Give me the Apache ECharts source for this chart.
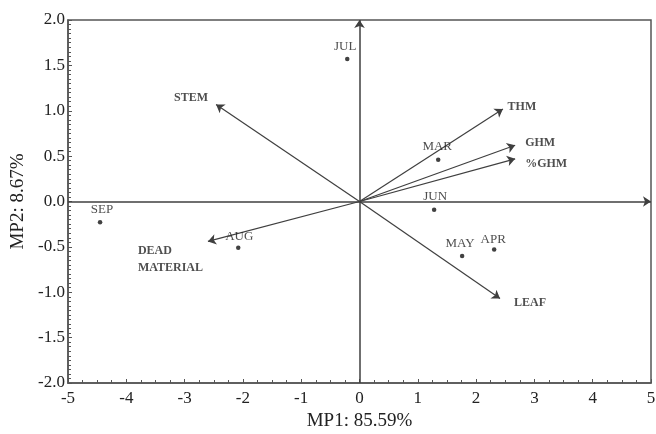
<!DOCTYPE html>
<html lang="en">
<head>
    <meta charset="UTF-8">
    <title>MP biplot</title>
    <script src="https://cdn.jsdelivr.net/npm/echarts@6/dist/echarts.min.js"></script>
    <style>
        html, body { margin: 0; padding: 0; background: #fff; }
        #chart { width: 656px; height: 434px; }
    </style>
</head>
<body>
    <div id="chart"></div>
    <script>
        // month scores
        const monthNames = ['JUL', 'MAR', 'JUN', 'MAY', 'APR', 'SEP', 'AUG'];
        const monthX = [-0.21, 1.35, 1.28, 1.76, 2.31, -4.45, -2.08];
        const monthY = [1.57, 0.46, -0.09, -0.60, -0.53, -0.23, -0.51];

        // variable vectors (arrow tips from the origin)
        const varNames = ['STEM', 'THM', 'GHM', '%GHM', 'LEAF', 'DEAD\nMATERIAL'];
        const varX = [-2.46, 2.46, 2.67, 2.67, 2.41, -2.60];
        const varY = [1.07, 1.02, 0.62, 0.47, -1.07, -0.44];

        const xTicks = [-5, -4, -3, -2, -1, 0, 1, 2, 3, 4, 5];
        const yTicks = [-2.0, -1.5, -1.0, -0.5, 0.0, 0.5, 1.0, 1.5, 2.0];

        // label offsets in px (layout only)
        const monthOffsets = {
            JUL: [-2, -12], MAR: [-1, -13], JUN: [1, -13], MAY: [-2, -12],
            APR: [-1, -10], SEP: [2, -13], AUG: [1, -11]
        };
        const varOffsets = {
            'STEM': [-25, -6], 'THM': [19, -2], 'GHM': [25, -2],
            '%GHM': [31, 5], 'LEAF': [30, 4], 'DEAD\nMATERIAL': [-70, 18]
        };

        const serif = '"Liberation Serif", "DejaVu Serif", serif';
        const lineColor = '#3f3f3f';

        const chart = echarts.init(document.getElementById('chart'));

        const monthData = monthNames.map((n, i) => ({
            name: n,
            value: [monthX[i], monthY[i]],
            label: { offset: monthOffsets[n] }
        }));

        const varLines = varNames.map((n, i) => ({ coords: [[0, 0], [varX[i], varY[i]]] }));
        const varLabels = varNames.map((n, i) => ({
            name: n,
            value: [varX[i], varY[i]],
            label: n.indexOf('\n') >= 0
                ? { offset: varOffsets[n], align: 'left' }
                : { offset: varOffsets[n] }
        }));

        chart.setOption({
            animation: false,
            grid: {
                left: 68, right: 5, top: 20, bottom: 51,
                outerBoundsMode: 'none',
                show: true, borderColor: '#555', borderWidth: 1.5
            },
            xAxis: {
                type: 'value', min: xTicks[0], max: xTicks[xTicks.length - 1], interval: 1,
                name: 'MP1: 85.59%', nameLocation: 'middle', nameGap: 26,
                nameTextStyle: { fontFamily: serif, fontSize: 19, color: '#222' },
                axisLine: { onZero: false, lineStyle: { color: '#555', width: 1.5 } },
                axisTick: { inside: true, length: 4, lineStyle: { color: '#555' } },
                minorTick: { show: true, splitNumber: 4, length: 3, lineStyle: { color: '#555' } },
                axisLabel: { fontFamily: serif, fontSize: 17, color: '#222', margin: 7 },
                splitLine: { show: false }
            },
            yAxis: {
                type: 'value', min: yTicks[0], max: yTicks[yTicks.length - 1], interval: 0.5,
                name: 'MP2: 8.67%', nameLocation: 'middle', nameGap: 40,
                nameTextStyle: { fontFamily: serif, fontSize: 19, color: '#222' },
                axisLine: { onZero: false, lineStyle: { color: '#555', width: 1.5 } },
                axisTick: { inside: true, length: 4, lineStyle: { color: '#555' } },
                minorTick: { show: true, splitNumber: 10, length: 3, lineStyle: { color: '#555' } },
                axisLabel: {
                    fontFamily: serif, fontSize: 17, color: '#222', margin: 3,
                    formatter: v => v.toFixed(1)
                },
                splitLine: { show: false }
            },
            series: [
                {
                    // axes through the origin
                    type: 'lines', coordinateSystem: 'cartesian2d',
                    symbol: ['none', 'arrow'], symbolSize: 8,
                    lineStyle: { color: lineColor, width: 1.5, opacity: 1 },
                    data: [
                        { coords: [[xTicks[0], 0], [xTicks[xTicks.length - 1], 0]] },
                        { coords: [[0, yTicks[0]], [0, yTicks[yTicks.length - 1]]] }
                    ],
                    silent: true
                },
                {
                    type: 'lines', coordinateSystem: 'cartesian2d',
                    symbol: ['none', 'arrow'], symbolSize: 8,
                    lineStyle: { color: lineColor, width: 1.2, opacity: 1 },
                    data: varLines,
                    silent: true
                },
                {
                    type: 'scatter', symbolSize: 0,
                    data: varLabels,
                    label: {
                        show: true, position: 'inside', formatter: '{b}',
                        fontFamily: serif, fontSize: 12, fontWeight: 'bold', color: '#222',
                        lineHeight: 17
                    }
                },
                {
                    type: 'scatter', symbol: 'circle', symbolSize: 4.5,
                    itemStyle: { color: '#111' },
                    data: monthData,
                    label: {
                        show: true, position: 'inside', formatter: '{b}',
                        fontFamily: serif, fontSize: 13, color: '#222'
                    }
                }
            ]
        });
    </script>
</body>
</html>
